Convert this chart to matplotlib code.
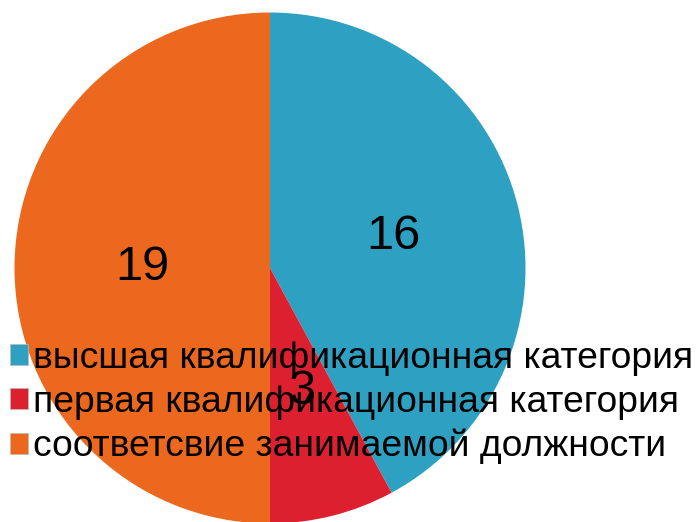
import matplotlib.pyplot as plt
from matplotlib.patches import Patch

plt.rcParams['font.family'] = ['Liberation Sans', 'DejaVu Sans']

categories = ["высшая квалификационная категория",
              "первая квалификационная категория",
              "соответсвие занимаемой должности"]
values = [16, 3, 19]
colors = ["#2EA1C2", "#DC2030", "#EB681E"]

W, H = 699, 522
fig = plt.figure(figsize=(W / 100, H / 100), dpi=100)
ax = fig.add_axes([0, 0, 1, 1])

wedges, texts, autotexts = ax.pie(
    values, colors=colors, startangle=90, counterclock=False,
    center=(270, H - 268), radius=255.5, frame=True,
    autopct=lambda p: f"{p * sum(values) / 100:.0f}", pctdistance=0.5,
    textprops=dict(fontsize=35, color="black"))
ax.set_xlim(0, W)
ax.set_ylim(0, H)
ax.set_aspect("equal")
ax.axis("off")

handles = [Patch(facecolor=c, edgecolor="#bbbbbb", linewidth=0.5) for c in colors]
leg = ax.legend(handles, categories, loc="upper left",
                bbox_to_anchor=(10 / W, 1 - 341 / H), bbox_transform=fig.transFigure,
                frameon=False, fontsize=26.8, borderpad=0, borderaxespad=0,
                handlelength=0.49, handleheight=0.49, handletextpad=0.14,
                labelspacing=0.24)

fig.savefig("out.png", dpi=100)
